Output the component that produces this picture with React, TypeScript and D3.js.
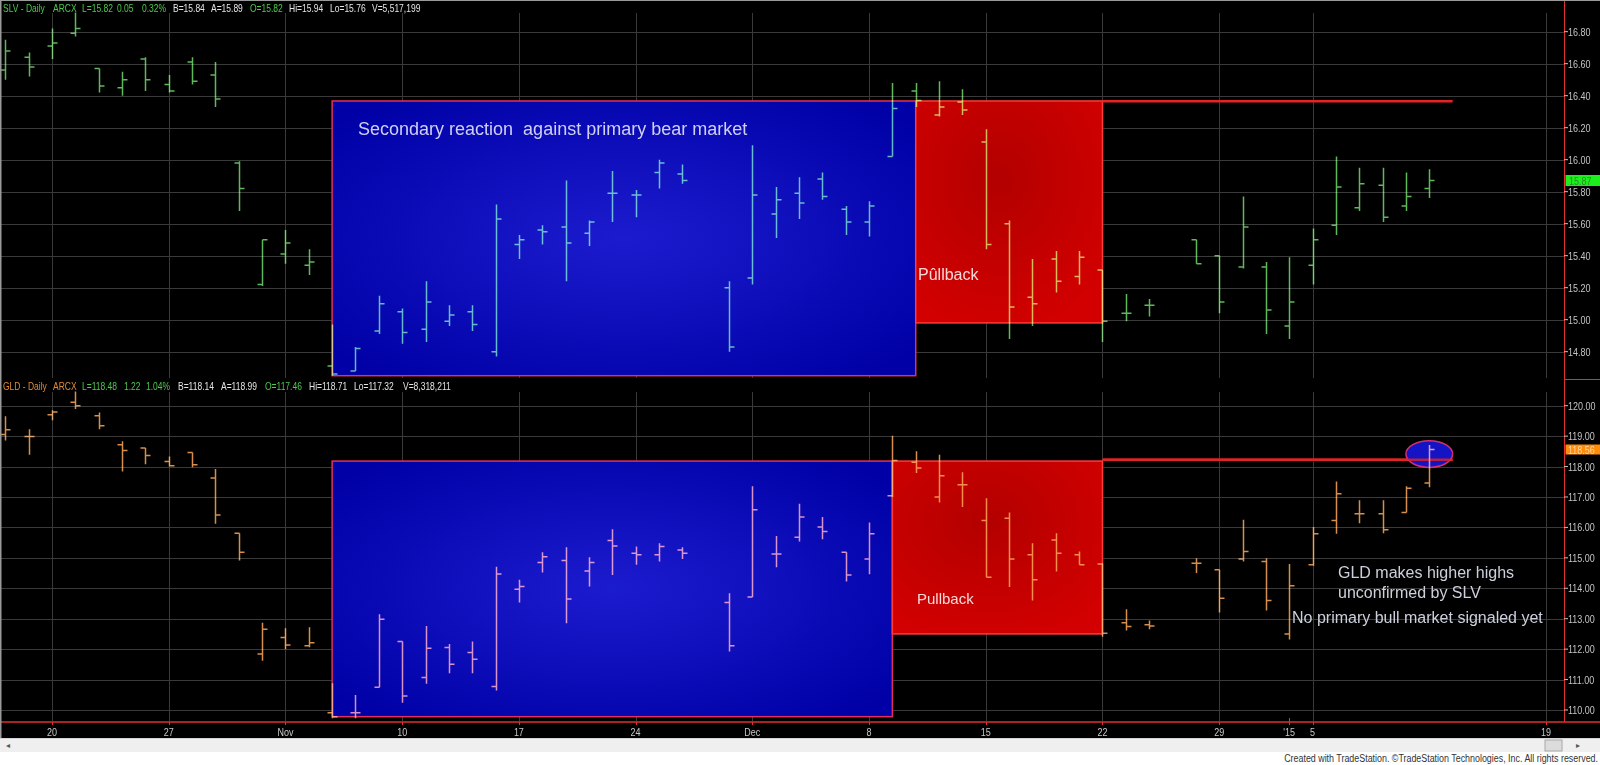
import React, { useEffect } from "react";
import * as d3 from "d3";

const W = 1600;
const H = 765;

// trading days that have a bar
const barDates = [
  "2014-10-16", "2014-10-17", "2014-10-20", "2014-10-21", "2014-10-22", "2014-10-23", "2014-10-24",
  "2014-10-27", "2014-10-28", "2014-10-29", "2014-10-30", "2014-10-31",
  "2014-11-03", "2014-11-04", "2014-11-05", "2014-11-06", "2014-11-07",
  "2014-11-10", "2014-11-11", "2014-11-12", "2014-11-13", "2014-11-14",
  "2014-11-17", "2014-11-18", "2014-11-19", "2014-11-20", "2014-11-21",
  "2014-11-24", "2014-11-25", "2014-11-26", "2014-11-28",
  "2014-12-01", "2014-12-02", "2014-12-03", "2014-12-04", "2014-12-05",
  "2014-12-08", "2014-12-09", "2014-12-10", "2014-12-11", "2014-12-12",
  "2014-12-15", "2014-12-16", "2014-12-17", "2014-12-18", "2014-12-19",
  "2014-12-22", "2014-12-23", "2014-12-24", "2014-12-26",
  "2014-12-29", "2014-12-30", "2014-12-31", "2015-01-02",
  "2015-01-05", "2015-01-06", "2015-01-07", "2015-01-08", "2015-01-09", "2015-01-12",
];

const slvOpen = [
  16.56, 16.64, 16.71, 16.79, 16.57, 16.45, 16.63, 16.47, 16.61, 16.53, 15.98, 15.22,
  15.41, 15.34, 14.71, 14.68, 14.93, 15.05, 14.94, 14.99, 15.05, 14.8, 15.47, 15.56,
  15.58, 15.54, 15.79, 15.78, 15.92, 15.91, 15.2,
  15.26, 15.66, 15.79, 15.88, 15.69, 15.61, 16.02, 16.43, 16.28, 16.36, 16.11, 15.6,
  15.14, 15.38, 15.27, 15.31, 15.04, 15.09, 15.5, 15.4, 15.33, 15.33, 14.96,
  15.34, 15.59, 15.7, 15.84, 15.71, 15.82,
];
const slvHigh = [
  16.75, 16.67, 16.82, 16.92, 16.57, 16.55, 16.64, 16.53, 16.64, 16.61, 15.99, 15.5,
  15.56, 15.44, 14.97, 14.83, 15.15, 15.07, 15.24, 15.09, 15.09, 15.72, 15.53, 15.59,
  15.87, 15.62, 15.93, 15.81, 16.0, 15.97, 15.24,
  16.09, 15.83, 15.89, 15.92, 15.71, 15.74, 16.48, 16.48, 16.49, 16.44, 16.19, 15.62,
  15.38, 15.43, 15.43, 15.31, 15.16, 15.13, 15.5, 15.4, 15.77, 15.36, 15.39,
  15.57, 16.02, 15.95, 15.95, 15.92, 15.94,
];
const slvLow = [
  16.5, 16.52, 16.63, 16.77, 16.42, 16.4, 16.43, 16.42, 16.47, 16.33, 15.68, 15.21,
  15.35, 15.28, 14.65, 14.68, 14.91, 14.85, 14.86, 14.96, 14.93, 14.77, 15.38, 15.47,
  15.24, 15.46, 15.61, 15.64, 15.82, 15.85, 14.8,
  15.22, 15.51, 15.63, 15.75, 15.53, 15.52, 16.02, 16.33, 16.27, 16.28, 15.44, 14.88,
  14.96, 15.17, 15.22, 14.86, 14.99, 15.02, 15.35, 15.04, 15.32, 14.91, 14.88,
  15.22, 15.53, 15.68, 15.61, 15.68, 15.76,
];
const slvClose = [
  16.68, 16.58, 16.73, 16.82, 16.46, 16.5, 16.5, 16.43, 16.49, 16.38, 15.82, 15.5,
  15.48, 15.36, 14.66, 14.82, 15.1, 14.92, 15.11, 15.03, 14.97, 15.63, 15.5, 15.55,
  15.48, 15.61, 15.79, 15.78, 15.98, 15.87, 14.83,
  15.78, 15.75, 15.73, 15.77, 15.61, 15.71, 16.32, 16.37, 16.33, 16.31, 15.47, 15.08,
  15.1, 15.24, 15.39, 14.99, 15.04, 15.09, 15.35, 15.11, 15.58, 15.06, 15.11,
  15.5, 15.83, 15.85, 15.64, 15.77, 15.87,
];

const gldOpen = [
  119.05, 118.99, 119.7, 120.11, 119.67, 118.72, 118.61, 118.17, 118.46, 117.62, 115.81, 111.84,
  112.38, 112.11, 109.91, 109.91, 110.75, 112.25, 111.07, 112.05, 111.89, 110.77, 113.97, 114.85,
  114.91, 114.57, 115.57, 115.15, 115.1, 115.26, 113.53,
  113.71, 115.13, 115.68, 116.01, 115.18, 114.96, 117.04, 118.14, 117.0, 117.4, 116.23, 116.3,
  115.1, 115.59, 115.1, 114.8, 112.87, 112.8, 114.82, 114.61, 114.96, 114.88, 112.5,
  114.77, 116.23, 116.45, 116.45, 116.49, 117.46,
];
const gldHigh = [
  119.65, 119.23, 119.85, 120.47, 119.78, 118.83, 118.61, 118.33, 118.46, 117.92, 115.81, 112.87,
  112.69, 112.72, 110.88, 110.49, 113.15, 112.25, 112.76, 112.17, 112.25, 114.71, 114.28, 115.18,
  115.35, 115.02, 115.94, 115.37, 115.48, 115.35, 113.84,
  117.35, 115.72, 116.78, 116.34, 115.18, 116.16, 119.01, 118.5, 118.39, 117.81, 116.96, 116.49,
  115.48, 115.81, 115.21, 114.82, 113.31, 112.94, 114.99, 114.61, 116.25, 114.99, 114.8,
  116.01, 117.51, 116.89, 116.89, 117.35, 118.71,
];
const gldLow = [
  118.86, 118.39, 119.52, 119.89, 119.23, 117.84, 118.08, 118.0, 117.98, 116.12, 114.91, 111.62,
  112.0, 112.06, 109.73, 109.73, 110.75, 110.24, 110.86, 111.21, 111.21, 110.64, 113.53, 114.52,
  112.85, 114.06, 114.44, 114.77, 114.88, 114.96, 111.92,
  113.71, 114.69, 115.54, 115.61, 114.22, 114.46, 117.0, 117.79, 116.82, 116.67, 114.36, 114.04,
  113.6, 114.55, 114.77, 112.41, 112.61, 112.65, 114.5, 113.2, 114.88, 113.27, 112.32,
  114.74, 115.79, 116.14, 115.81, 116.49, 117.32,
];
const gldClose = [
  119.21, 118.99, 119.79, 120.0, 119.34, 118.53, 118.36, 118.03, 118.06, 116.41, 115.18, 112.65,
  112.14, 112.21, 109.78, 109.91, 112.98, 110.46, 112.03, 111.5, 111.67, 114.47, 114.06, 115.04,
  113.65, 114.85, 115.39, 115.1, 115.37, 115.15, 112.11,
  116.58, 115.13, 116.34, 115.87, 114.44, 115.79, 118.2, 117.95, 117.7, 117.4, 114.36, 114.96,
  114.28, 115.15, 114.77, 112.52, 112.74, 112.76, 114.82, 113.67, 115.21, 113.6, 114.08,
  115.79, 117.11, 116.45, 115.92, 117.29, 118.56,
];

const tickDates = [
  "2014-10-20", "2014-10-27", "2014-11-03", "2014-11-10", "2014-11-17", "2014-11-24", "2014-12-01",
  "2014-12-08", "2014-12-15", "2014-12-22", "2014-12-29", "2015-01-02", "2015-01-05", "2015-01-19",
];
const tickLabels = ["20", "27", "Nov", "10", "17", "24", "Dec", "8", "15", "22", "29", "'15", "5", "19"];
const tickGrid = [true, true, true, true, true, true, true, true, true, true, true, false, true, true];

const slvTicks = [14.8, 15.0, 15.2, 15.4, 15.6, 15.8, 16.0, 16.2, 16.4, 16.6, 16.8];
const gldTicks = [110, 111, 112, 113, 114, 115, 116, 117, 118, 119, 120];

// study boxes: [from, to, top, bottom]
const slvBlueBox = ["2014-11-05", "2014-12-10", 16.367, 14.65] as const;
const slvRedBox = ["2014-12-10", "2014-12-22", 16.367, 14.98] as const;
const slvLine = ["2014-12-22", "2015-01-13", 16.365] as const;
const gldBlueBox = ["2014-11-05", "2014-12-09", 118.18, 109.78] as const;
const gldRedBox = ["2014-12-09", "2014-12-22", 118.18, 112.5] as const;
const gldLine = ["2014-12-22", "2015-01-13", 118.22] as const;
const gldCircle = ["2015-01-12", 118.41] as const;

const fmt = d3.timeFormat("%Y-%m-%d");
const slots = d3.timeDay
  .range(new Date(2014, 9, 16), new Date(2015, 0, 22))
  .filter((d) => d.getDay() !== 0 && d.getDay() !== 6)
  .map(fmt)
  .filter((d) => d !== "2015-01-01");

const slotIndex = new Map(slots.map((d, i) => [d, i]));
const x0 = slotIndex.get("2014-10-20")!;
const x19 = slotIndex.get("2015-01-19")!;
const xs = d3.scaleLinear().domain([x0, x19]).range([52, 1546]);
const x = (d: string) => xs(slotIndex.get(d)!);
const slotW = xs(1) - xs(0);

const AXIS_X = 1564;
const yS = d3.scaleLinear().domain([14.8, 16.8]).range([351.7, 31.7]);
const yG = d3.scaleLinear().domain([110, 120]).range([710, 405.7]);

const FONT = "Arial, 'Liberation Sans', sans-serif";
const f2 = d3.format(".2f");

function Bars({ o, h, l, c, y, color }: any) {
  return (
    <g stroke={color} strokeWidth={1.5} fill="none" style={{ mixBlendMode: "screen" }}>
      {barDates.map((d, i) => {
        const cx = Math.round(x(d)) + 0.5;
        return (
          <path
            key={d}
            d={`M${cx},${y(h[i])}V${y(l[i])}M${cx - 5},${y(o[i])}H${cx}M${cx},${y(c[i])}H${cx + 5}`}
          />
        );
      })}
    </g>
  );
}

function Box({ box, y, fill, stroke }: any) {
  const [from, to, top, bottom] = box;
  return (
    <rect
      x={x(from)}
      y={y(top)}
      width={x(to) - x(from)}
      height={y(bottom) - y(top)}
      fill={fill}
      stroke={stroke}
      strokeWidth={1.5}
    />
  );
}

// TradeStation's small font is narrow and tall: small text stretched vertically
function Tall({ x: px, y, k = 1.35, size = 8.5, children, ...rest }: any) {
  return (
    <g transform={`translate(${px},${y}) scale(1,${k})`}>
      <text x={0} y={0} fontFamily={FONT} fontSize={size} {...rest}>
        {children}
      </text>
    </g>
  );
}

function Header({ y, parts }: { y: number; parts: [number, string, string][] }) {
  return (
    <g>
      {parts.map(([px, t, col], i) => (
        <Tall key={i} x={px} y={y} fill={col}>
          {t}
        </Tall>
      ))}
    </g>
  );
}

export default function App() {
  useEffect(() => {
    document.body.style.margin = "0";
  }, []);

  const green = "#4ec84e";
  const white = "#e4e4e4";
  const orange = "#e08a38";
  const slvLast = slvClose[slvClose.length - 1];
  const gldLast = gldClose[gldClose.length - 1];

  return (
    <svg width={W} height={H} style={{ display: "block", background: "#000" }}>
      <defs>
        <radialGradient id="blueG" cx="50%" cy="50%" r="65%">
          <stop offset="0%" stopColor="#1c1ccf" />
          <stop offset="100%" stopColor="#0000a6" />
        </radialGradient>
        <radialGradient id="redG" cx="45%" cy="35%" r="70%">
          <stop offset="0%" stopColor="#b30000" />
          <stop offset="100%" stopColor="#d20000" />
        </radialGradient>
      </defs>
      <rect width={W} height={H} fill="#000" />

      {/* grids */}
      <g stroke="#3a3a3a" strokeWidth={1}>
        {slvTicks.map((t) => (
          <line key={t} x1={0} x2={AXIS_X} y1={Math.round(yS(t)) + 0.5} y2={Math.round(yS(t)) + 0.5} />
        ))}
        {gldTicks.map((t) => (
          <line key={t} x1={0} x2={AXIS_X} y1={Math.round(yG(t)) + 0.5} y2={Math.round(yG(t)) + 0.5} />
        ))}
        {tickDates.map((d, i) =>
          tickGrid[i] ? (
            <g key={d}>
              <line x1={Math.round(x(d)) + 0.5} x2={Math.round(x(d)) + 0.5} y1={13} y2={378} />
              <line x1={Math.round(x(d)) + 0.5} x2={Math.round(x(d)) + 0.5} y1={392} y2={721} />
            </g>
          ) : null
        )}
      </g>

      {/* SLV pane */}
      <Box box={slvBlueBox} y={yS} fill="url(#blueG)" stroke="#e2305c" />
      <Box box={slvRedBox} y={yS} fill="url(#redG)" stroke="#ff3a3a" />
      <line
        x1={x(slvLine[0])}
        x2={x(slvLine[1])}
        y1={yS(slvLine[2])}
        y2={yS(slvLine[2])}
        stroke="#e42424"
        strokeWidth={2.5}
      />
      <Bars o={slvOpen} h={slvHigh} l={slvLow} c={slvClose} y={yS} color="#5fb85a" />
      <text x={358} y={135} fontFamily={FONT} fontSize={18} fill="#cfcff2">
        Secondary reaction{"\u00a0\u00a0"}against primary bear market
      </text>
      <text x={918} y={280} fontFamily={FONT} fontSize={16} fill="#f6dada">
        Pûllback
      </text>

      {/* GLD pane */}
      <Box box={gldBlueBox} y={yG} fill="url(#blueG)" stroke="#e2305c" />
      <Box box={gldRedBox} y={yG} fill="url(#redG)" stroke="#ff3a3a" />
      <line
        x1={x(gldLine[0])}
        x2={x(gldLine[1])}
        y1={yG(gldLine[2])}
        y2={yG(gldLine[2])}
        stroke="#e42424"
        strokeWidth={2.5}
      />
      <ellipse
        cx={x(gldCircle[0])}
        cy={yG(gldCircle[1])}
        rx={slotW}
        ry={13.3}
        fill="#1414c4"
        stroke="#d03070"
        strokeWidth={1.5}
      />
      <line
        x1={x(gldLine[0])}
        x2={x(gldLine[1])}
        y1={yG(gldLine[2])}
        y2={yG(gldLine[2])}
        stroke="#e42424"
        strokeWidth={2.5}
        opacity={0.8}
      />
      <Bars o={gldOpen} h={gldHigh} l={gldLow} c={gldClose} y={yG} color="#d88e4c" />
      <text x={917} y={604} fontFamily={FONT} fontSize={15} fill="#f6dada">
        Pullback
      </text>
      <g fontFamily={FONT} fontSize={16} fill="#ccd0dc">
        <text x={1338} y={578}>GLD makes higher highs</text>
        <text x={1338} y={598}>unconfirmed by SLV</text>
        <text x={1292} y={623}>No primary bull market signaled yet</text>
      </g>

      {/* headers */}
      <Header
        y={12}
        parts={[
          [3, "SLV - Daily", green],
          [53, "ARCX", green],
          [82, "L=15.82", green],
          [117, "0.05", green],
          [142, "0.32%", green],
          [173, "B=15.84", white],
          [211, "A=15.89", white],
          [250, "O=15.82", green],
          [289, "Hi=15.94", white],
          [330, "Lo=15.76", white],
          [372, "V=5,517,199", white],
        ]}
      />
      <Header
        y={389.5}
        parts={[
          [3, "GLD - Daily", orange],
          [53, "ARCX", orange],
          [82, "L=118.48", green],
          [124, "1.22", green],
          [146, "1.04%", green],
          [178, "B=118.14", white],
          [221, "A=118.99", white],
          [265, "O=117.46", green],
          [309, "Hi=118.71", white],
          [354, "Lo=117.32", white],
          [403, "V=8,318,211", white],
        ]}
      />

      {/* price axis */}
      <g stroke="#e03030" strokeWidth={1}>
        <line x1={AXIS_X + 0.5} x2={AXIS_X + 0.5} y1={0} y2={722} />
        <line x1={AXIS_X} x2={W} y1={379.5} y2={379.5} />
        <line x1={0} x2={W} y1={722} y2={722} strokeWidth={1.5} />
      </g>
      <g>
        {slvTicks.map((t) => (
          <g key={t}>
            <line x1={AXIS_X} x2={AXIS_X + 4} y1={yS(t)} y2={yS(t)} stroke="#c4c4c4" />
            <Tall x={AXIS_X + 4} y={yS(t) + 4} size={9} k={1.25} fill="#c4c4c4">
              {f2(t)}
            </Tall>
          </g>
        ))}
        {gldTicks.map((t) => (
          <g key={t}>
            <line x1={AXIS_X} x2={AXIS_X + 4} y1={yG(t)} y2={yG(t)} stroke="#c4c4c4" />
            <Tall x={AXIS_X + 4} y={yG(t) + 4} size={9} k={1.25} fill="#c4c4c4">
              {f2(t)}
            </Tall>
          </g>
        ))}
      </g>
      {/* last price markers */}
      <rect x={AXIS_X + 1.5} y={yS(slvLast) - 5.5} width={34.5} height={11} fill="#1cf01c" />
      <Tall x={AXIS_X + 5} y={yS(slvLast) + 4} size={9} k={1.25} fill="#2a8a2a">
        {f2(slvLast)}
      </Tall>
      <rect x={AXIS_X + 1.5} y={yG(gldLast) - 5} width={34.5} height={10} fill="#ff8c0a" />
      <Tall x={AXIS_X + 4} y={yG(gldLast) + 4} size={9} k={1.2} fill="#ffd9a0">
        {f2(gldLast)}
      </Tall>

      {/* date axis */}
      <g>
        {tickDates.map((d, i) => (
          <g key={d}>
            <line
              x1={Math.round(x(d)) + 0.5}
              x2={Math.round(x(d)) + 0.5}
              y1={tickGrid[i] ? 722 : 718}
              y2={725}
              stroke="#e03030"
            />
            <Tall x={x(d)} y={735.5} size={9} k={1.3} fill="#c8c8c8" textAnchor="middle">
              {tickLabels[i]}
            </Tall>
          </g>
        ))}
      </g>

      {/* scrollbar + footer */}
      <rect x={0} y={738} width={W} height={14} fill="#efefef" />
      <line x1={0} x2={W} y1={738.5} y2={738.5} stroke="#d4d4d4" />
      <text x={6} y={748} fontSize={8} fill="#555" fontFamily={FONT}>
        ◂
      </text>
      <rect x={1545} y={740} width={17} height={11} fill="#dcdcdc" stroke="#a8a8a8" />
      <text x={1576} y={748} fontSize={8} fill="#555" fontFamily={FONT}>
        ▸
      </text>
      <rect x={0} y={752} width={W} height={13} fill="#fff" />
      <Tall x={1598} y={762} size={8.9} k={1.15} fill="#333" textAnchor="end">
        Created with TradeStation. ©TradeStation Technologies, Inc. All rights reserved.
      </Tall>
      <rect x={0} y={0} width={1.5} height={738} fill="#9a9a9a" />
      <rect x={0} y={0} width={W} height={1} fill="#9a9a9a" />
    </svg>
  );
}
